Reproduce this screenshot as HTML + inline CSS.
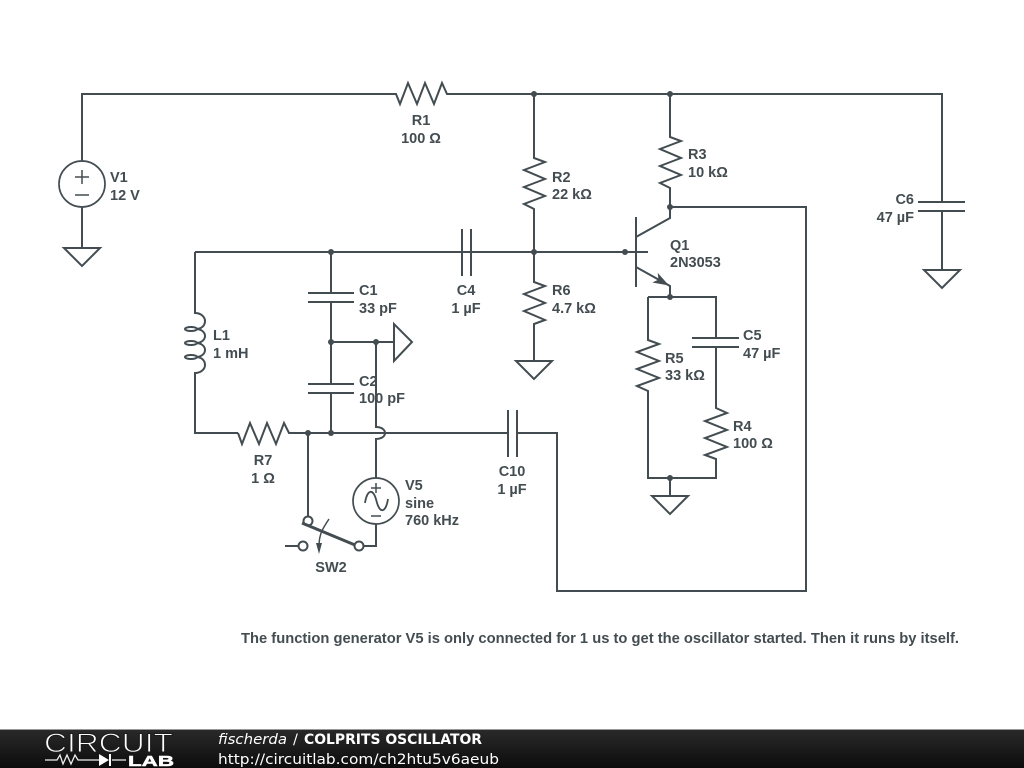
<!DOCTYPE html>
<html><head><meta charset="utf-8"><style>
html,body{margin:0;padding:0;background:#fff;width:1024px;height:768px;overflow:hidden}
svg{display:block}
.w{fill:none;stroke:#434d51;stroke-width:2;stroke-linejoin:miter}
.t{font-family:"Liberation Sans",sans-serif;font-weight:bold;font-size:14.500px;fill:#434d51}
.f{font-family:"DejaVu Sans",sans-serif;font-size:14.500px;fill:#fff}
</style></head><body>
<svg width="1024" height="768" viewBox="0 0 1024 768" xmlns="http://www.w3.org/2000/svg">
<defs><linearGradient id="g" x1="0" y1="0" x2="0" y2="1"><stop offset="0" stop-color="#2a2a2a"/><stop offset="1" stop-color="#0c0c0c"/></linearGradient></defs>
<rect width="1024" height="768" fill="#fff"/>
<g class="w">
<!-- top rail -->
<path d="M82 161V94H396L400 104L408 83L417 104L425 83L434 104L442 83L447 94H942V201"/>
<path d="M82 207V248"/><circle cx="82" cy="184" r="23" stroke-width="1.700"/>
<path d="M75 177H89M82 170V184M75 195H89" stroke-width="1.500"/>
<path d="M64 248H100L82 266Z"/>
<!-- C6 -->
<path d="M918 202H965M918 211H965M942 211V270M924 270H960L942 288Z"/>
<!-- R2 -->
<path d="M534 94V158L545 162L524 170L545 179L524 187L545 196L524 204L534 209V282"/>
<!-- R6 -->
<path d="M534 271V282L545 286L524 294L545 303L524 311L545 320L534 324V361M516 361H552L534 379Z"/>
<!-- R3 -->
<path d="M670 94V137L681 141L660 149L681 158L660 166L681 175L660 183L670 188V218L636 237"/>
<!-- Q1 -->
<path d="M636 217V287M195 252H648M636 267L670 286V297"/>
<path d="M670 207H806V591H557V433H517M508 433H382"/>
<!-- C4, C10 -->
<path d="M462 229V276M471 229V276M508 410V457M517 410V457"/>
<!-- emitter network -->
<path d="M648 297H716V338M716 347V408L727 413L705 421L727 430L705 438L727 447L705 455L716 459V478H648V391L637 386L659 378L637 369L659 361L637 352L659 344L648 340V297"/>
<path d="M692 338H739M692 347H739M670 478V496M652 496H688L670 514Z"/>
<!-- L1 -->
<path d="M195 252V313C201 313 205 317 205 321C205 326 201 329 196 329M196 329C201 329 205 332 205 336C205 340 201 343 196 343M196 343C201 343 205 346 205 350C205 354 201 357 196 357M196 357C201 357 205 360 205 365C205 369 201 373 195 373V433H238"/>
<ellipse cx="191" cy="329" rx="6" ry="2"/><ellipse cx="191" cy="343" rx="6" ry="2"/><ellipse cx="191" cy="357" rx="6" ry="2"/>
<!-- R7 -->
<path d="M238 433L242 444L250 423L259 444L267 423L276 444L284 423L289 433H382"/>
<!-- C1/C2 -->
<path d="M331 252V293M331 302V384M331 393V433M308 293H354M308 302H354M308 384H354M308 393H354"/>
<path d="M331 342H394M394 324V361L412 342Z"/>
<path d="M376 342V427C382 427 385 430 385 433C385 436 382 439 376 439V478"/>
<!-- V5 -->
<circle cx="376" cy="501" r="23" stroke-width="1.700"/>
<path d="M365 503C367 490 373 487 376.500 501C380 515 386 512 388 499" stroke-width="1.800"/>
<path d="M371 488H381M376 483V493M371 516H381" stroke-width="1.500"/>
<path d="M376 524V546H364"/>
<!-- Switch -->
<path d="M308 433V516"/>
<circle cx="308" cy="521" r="4.500"/><circle cx="359" cy="546" r="4.500"/><circle cx="303" cy="546" r="4.500"/>
<path d="M285 546H298"/>
<path d="M302 523L355 545" stroke-width="3"/>
<path d="M329 519C323 528 319 534 319 546" stroke-width="1.500"/>
</g>
<g fill="#434d51">
<path d="M319 554L316 543H322Z"/>
<path d="M669 285.500L652.300 282.500L658.500 279.600L657.700 272.900Z"/>
<circle cx="534" cy="94" r="3"/><circle cx="670" cy="94" r="3"/><circle cx="670" cy="207" r="3"/><circle cx="331" cy="252" r="3"/><circle cx="534" cy="252" r="3"/><circle cx="625" cy="252" r="3"/><circle cx="670" cy="297" r="3"/><circle cx="670" cy="478" r="3"/><circle cx="331" cy="342" r="3"/><circle cx="376" cy="342" r="3"/><circle cx="308" cy="433" r="3"/><circle cx="331" cy="433" r="3"/>
</g>
<g class="t">
<text x="421" y="125" text-anchor="middle">R1</text><text x="421" y="143" text-anchor="middle">100 Ω</text>
<text x="110" y="182">V1</text><text x="110" y="200">12 V</text>
<text x="552" y="182">R2</text><text x="552" y="199">22 kΩ</text>
<text x="688" y="159">R3</text><text x="688" y="177">10 kΩ</text>
<text x="914" y="204" text-anchor="end">C6</text><text x="914" y="222" text-anchor="end">47 µF</text>
<text x="670" y="250">Q1</text><text x="670" y="267">2N3053</text>
<text x="359" y="295">C1</text><text x="359" y="313">33 pF</text>
<text x="466" y="295" text-anchor="middle">C4</text><text x="466" y="313" text-anchor="middle">1 µF</text>
<text x="552" y="295">R6</text><text x="552" y="313">4.7 kΩ</text>
<text x="213" y="340">L1</text><text x="213" y="358">1 mH</text>
<text x="743" y="340">C5</text><text x="743" y="358">47 µF</text>
<text x="665" y="363">R5</text><text x="665" y="380">33 kΩ</text>
<text x="359" y="386">C2</text><text x="359" y="403">100 pF</text>
<text x="733" y="431">R4</text><text x="733" y="448">100 Ω</text>
<text x="263" y="465" text-anchor="middle">R7</text><text x="263" y="483" text-anchor="middle">1 Ω</text>
<text x="512" y="476" text-anchor="middle">C10</text><text x="512" y="494" text-anchor="middle">1 µF</text>
<text x="405" y="490">V5</text><text x="405" y="508">sine</text><text x="405" y="525">760 kHz</text>
<text x="331" y="572" text-anchor="middle">SW2</text>
<text x="241" y="643" textLength="718" lengthAdjust="spacingAndGlyphs">The function generator V5 is only connected for 1 us to get the oscillator started. Then it runs by itself.</text>
</g>
<!-- footer -->
<rect x="0" y="729" width="1024" height="39" fill="url(#g)"/>
<rect x="0" y="729" width="1024" height="1" fill="#999"/>
<text x="44" y="752" font-family="'Liberation Sans',sans-serif" font-size="27" fill="#fff" stroke="#1c1c1c" stroke-width="1" textLength="129" lengthAdjust="spacingAndGlyphs">CIRCUIT</text>
<text x="128" y="766" font-family="'Liberation Sans',sans-serif" font-weight="bold" font-size="15" fill="#fff" stroke="#fff" stroke-width="0.500" textLength="46" lengthAdjust="spacingAndGlyphs">LAB</text>
<path d="M45 760H57L60 755L63 764L67 755L71 764L75 755L78 760H99M112 760H126" fill="none" stroke="#eee" stroke-width="1.300"/>
<path d="M99 754V766L109 760Z" fill="#fff"/><rect x="109" y="754" width="2" height="12" fill="#fff"/>
<text class="f" x="218" y="744" font-style="italic" textLength="69" lengthAdjust="spacingAndGlyphs">fischerda</text>
<text class="f" x="293" y="744">/</text>
<text class="f" x="304" y="744" font-weight="bold" textLength="178" lengthAdjust="spacingAndGlyphs">COLPRITS OSCILLATOR</text>
<text class="f" x="218" y="764" textLength="281" lengthAdjust="spacingAndGlyphs">http://circuitlab.com/ch2htu5v6aeub</text>
</svg>
</body></html>
